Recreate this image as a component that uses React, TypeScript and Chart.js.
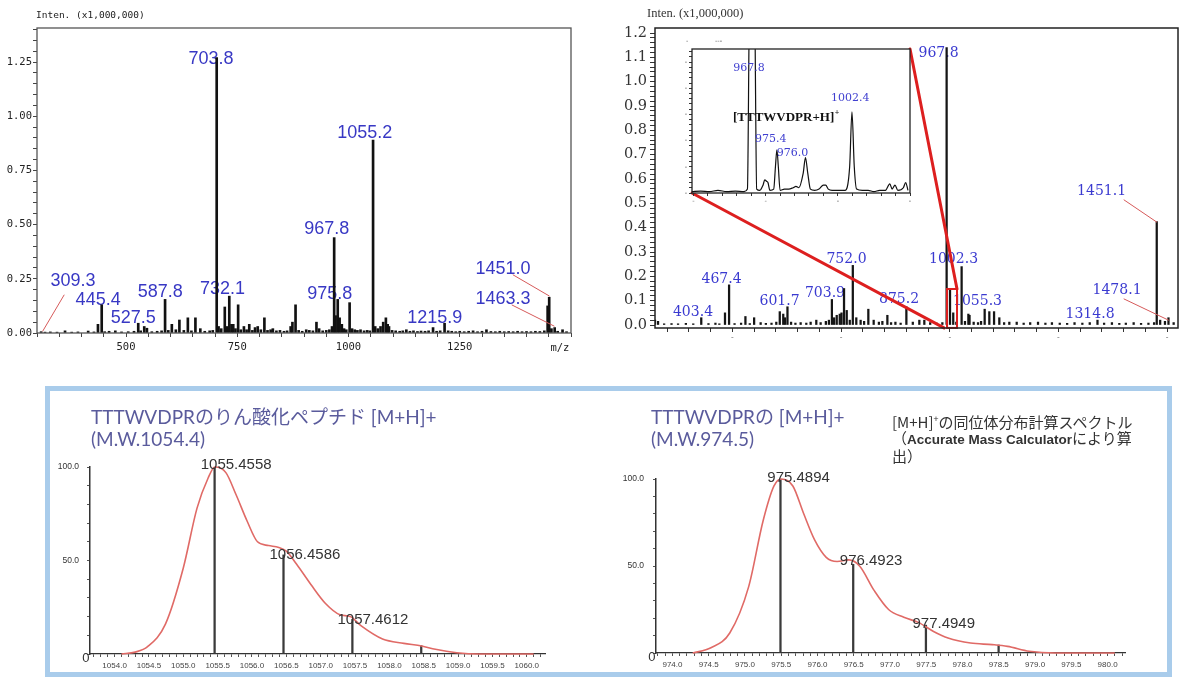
import React, { useEffect, useRef } from "react";
import { Chart, registerables } from "chart.js";

Chart.register(...registerables);

/* ================= DATA ================= */

/* ---- top-left spectrum: m/z vs intensity (x1,000,000) ---- */
const tlMz = [309.3, 318, 330, 345, 363, 378, 392, 415, 428, 437,
  445.4, 452, 462, 476, 490, 505, 518, 527.5, 533, 541,
  547, 558, 570, 580, 587.8, 595, 603, 612, 620, 630,
  639, 647, 656, 667, 677, 688, 695, 703.8, 708, 714,
  722, 727, 732.1, 737, 741, 746, 752, 758, 765, 771,
  777, 784, 790, 796, 803, 811, 818, 825, 830, 838,
  846, 855, 862, 870, 874, 881, 888, 896, 905, 912,
  920, 928, 934, 942, 950, 957, 963, 967.8, 971, 975.8,
  980, 985, 990, 995, 1002.5, 1008, 1014, 1020, 1027, 1035,
  1042, 1048, 1055.2, 1060, 1066, 1072, 1078, 1084, 1088, 1091,
  1098, 1106, 1115, 1122, 1130, 1138, 1146, 1155, 1163, 1172,
  1180, 1190, 1198, 1206, 1215.9, 1224, 1232, 1241, 1250, 1260,
  1270, 1280, 1290, 1300, 1310, 1320, 1330, 1340, 1350, 1360,
  1370, 1380, 1390, 1400, 1410, 1420, 1430, 1440, 1447.5, 1451.0,
  1456, 1463.3, 1470, 1481, 1490];
const tlInt = [0.006, 0.004, 0.005, 0.004, 0.01, 0.004, 0.005, 0.009, 0.005, 0.04,
  0.13, 0.006, 0.008, 0.01, 0.005, 0.006, 0.008, 0.045, 0.01, 0.03,
  0.022, 0.006, 0.008, 0.01, 0.155, 0.012, 0.04, 0.015, 0.06, 0.012,
  0.07, 0.01, 0.07, 0.02, 0.008, 0.01, 0.012, 1.27, 0.03, 0.02,
  0.12, 0.03, 0.17, 0.04, 0.04, 0.02, 0.13, 0.015, 0.03, 0.015,
  0.04, 0.012, 0.025, 0.03, 0.015, 0.07, 0.012, 0.015, 0.02, 0.01,
  0.012, 0.008, 0.01, 0.03, 0.05, 0.13, 0.012, 0.008, 0.015, 0.012,
  0.01, 0.05, 0.02, 0.01, 0.012, 0.015, 0.03, 0.44, 0.08, 0.155,
  0.07, 0.04, 0.02, 0.015, 0.14, 0.02, 0.015, 0.012, 0.015, 0.01,
  0.012, 0.01, 0.89, 0.03, 0.02, 0.03, 0.05, 0.07, 0.04, 0.03,
  0.012, 0.01, 0.008, 0.01, 0.015, 0.008, 0.01, 0.007, 0.009, 0.008,
  0.01, 0.025, 0.008, 0.01, 0.045, 0.01, 0.008, 0.006, 0.008, 0.006,
  0.008, 0.01, 0.006, 0.008, 0.015, 0.007, 0.006, 0.008, 0.006, 0.007,
  0.006, 0.008, 0.006, 0.007, 0.006, 0.008, 0.007, 0.01, 0.125, 0.165,
  0.02, 0.025, 0.008, 0.015, 0.006];
const tlLabelText = ["309.3", "445.4", "527.5", "587.8", "703.8", "732.1", "967.8", "975.8", "1055.2", "1215.9", "1451.0", "1463.3"];
const tlLabelMz = [381, 437.4, 516.2, 577, 690.8, 716.7, 950.9, 957.7, 1036.5, 1194, 1347, 1347];
const tlLabelInt = [0.24, 0.152, 0.069, 0.189, 1.265, 0.203, 0.48, 0.18, 0.922, 0.069, 0.295, 0.157];
const tlLeadFromMz = [360.8, 1370, 1367.6];
const tlLeadFromInt = [0.175, 0.268, 0.129];
const tlLeadToMz = [313, 1451, 1462];
const tlLeadToInt = [0.009, 0.171, 0.032];
const tlXTickLabels = [500, 750, 1000, 1250];

/* ---- top-right spectrum ---- */
const trMz = [297, 304, 318, 335, 350, 368, 385, 403.4, 420, 436,
  445, 458, 467.4, 480, 495, 505, 515, 525, 540, 552,
  565, 576, 584, 592, 596, 601.7, 610, 620, 632, 645,
  655, 668, 678, 690, 697, 703.9, 709, 715, 722, 726,
  731.8, 738, 745, 752.0, 760, 770, 778, 787.7, 800, 812,
  820, 831.5, 840, 850, 862, 875.2, 890, 905, 916.5, 930,
  945, 958, 967.8, 975.6, 983, 990, 1002.3, 1010, 1017.8, 1020.5,
  1030, 1040, 1047, 1055.3, 1066, 1076.9, 1089, 1100, 1112, 1129,
  1145, 1160, 1178, 1195, 1210, 1228, 1245, 1262, 1280, 1297,
  1314.8, 1330, 1348, 1365, 1380, 1398, 1415, 1432, 1445, 1451.1,
  1459, 1470, 1478.1, 1490];
const trInt = [0.02, 0.015, 0.005, 0.006, 0.005, 0.007, 0.005, 0.03, 0.006, 0.008,
  0.005, 0.05, 0.165, 0.006, 0.008, 0.035, 0.006, 0.03, 0.01, 0.007,
  0.008, 0.012, 0.055, 0.045, 0.03, 0.075, 0.012, 0.008, 0.01, 0.008,
  0.012, 0.02, 0.01, 0.015, 0.02, 0.105, 0.03, 0.04, 0.045, 0.05,
  0.15, 0.06, 0.02, 0.245, 0.03, 0.02, 0.015, 0.065, 0.02, 0.012,
  0.015, 0.04, 0.01, 0.012, 0.008, 0.075, 0.012, 0.02, 0.02, 0.01,
  0.008, 0.01, 1.14, 0.15, 0.05, 0.012, 0.24, 0.015, 0.045, 0.04,
  0.012, 0.01, 0.015, 0.065, 0.055, 0.055, 0.03, 0.01, 0.012, 0.012,
  0.008, 0.01, 0.012, 0.008, 0.01, 0.008, 0.007, 0.01, 0.008, 0.01,
  0.02, 0.008, 0.01, 0.007, 0.008, 0.01, 0.007, 0.008, 0.01, 0.425,
  0.02, 0.015, 0.03, 0.01];
const trLabelText = ["403.4", "467.4", "601.7", "703.9", "752.0", "875.2", "967.8", "1002.3", "1055.3", "1314.8", "1451.1", "1478.1"];
const trLabelMz = [384.4, 450, 583.4, 688, 737.5, 858.3, 949.2, 983.7, 1038.9, 1297.7, 1324.2, 1359.8];
const trLabelInt = [0.051, 0.187, 0.099, 0.132, 0.271, 0.107, 1.116, 0.271, 0.097, 0.045, 0.549, 0.144];
const trLeadFromMz = [1375.9, 1375.9];
const trLeadFromInt = [0.514, 0.107];
const trLeadToMz = [1451.1, 1478.1];
const trLeadToInt = [0.423, 0.02];
const trZoomBoxMz = [968.7, 991.7];
const trZoomBoxInt = [-0.012, 0.148];
const trZoomFromMz = [382.1, 883.6];
const trZoomFromInt = [0.5425, 1.134];
const trZoomToMz = [961.8, 991.7];
const trZoomToInt = [-0.012, 0.148];

/* ---- inset (zoom of 967.8 .. 1002.4 region), relative intensity ---- */
const insetMz = [947, 950, 953, 956, 959, 962, 965, 966.2, 966.8, 967.8,
  968.8, 969.4, 970.5, 971.6, 972.2, 972.8, 973.3, 974, 975.3, 975.9,
  976.4, 976.9, 977.5, 979, 980.5, 982, 983, 984, 985.5, 986.3,
  987.1, 988, 989.5, 991, 992.5, 993.3, 994.2, 995.5, 998, 1000,
  1001.6, 1002.4, 1003.2, 1004, 1006, 1008, 1010, 1012, 1014, 1015.5,
  1016.3, 1017.3, 1018.3, 1020.2, 1021, 1021.8];
const insetVal = [1, 1.5, 1, 2, 1, 1.5, 1, 3, 130, 300,
  130, 3, 2, 6, 10, 9, 8, 2, 3, 20,
  33, 20, 2, 3, 3, 4, 5, 4, 15, 27,
  15, 3, 2, 3, 6, 6, 3, 2, 2, 2,
  20, 62, 20, 3, 2, 2, 1, 2, 2, 7,
  3, 6, 2, 4, 8, 2];
const insetLabelText = ["967.8", "1002.4", "975.4", "976.0"];
const insetLabelMz = [966.7, 1001.8, 974.3, 981.8];
const insetLabelVal = [95.4, 72.7, 40.8, 30.8];
const insetIonText = "[TTTWVDPR+H]";
const insetIonMz = 961.2;
const insetIonVal = 57.7;

/* ---- bottom-left: phosphopeptide isotope pattern ---- */
const blCurveMz = [1054.1, 1054.3, 1054.48, 1054.74, 1055.0, 1055.2, 1055.36, 1055.46, 1055.62, 1055.77,
  1055.93, 1056.08, 1056.24, 1056.39, 1056.5, 1056.65, 1056.86, 1057.07, 1057.28, 1057.43,
  1057.59, 1057.9, 1058.21, 1058.47, 1058.67, 1058.98, 1059.3, 1059.7, 1060.1];
const blCurveRel = [0, 1, 3.9, 16, 46, 78, 94, 100, 97, 85,
  71, 60, 58, 57, 55, 48, 37, 27, 21, 20,
  15, 8, 5.7, 4.3, 2.5, 0.7, 0, 0, 0];
const blStickMz = [1055.4558, 1056.4586, 1057.4612, 1058.4634];
const blStickRel = [100, 53, 18.5, 4.5];
const blLabelText = ["1055.4558", "1056.4586", "1057.4612"];
const blLabelMz = [1055.77, 1056.77, 1057.76];
const blLabelRel = [101.1, 52.9, 18.5];

/* ---- bottom-right: non-phosphorylated isotope pattern ---- */
const brCurveMz = [974.28, 974.53, 974.79, 975.05, 975.25, 975.4, 975.5, 975.66, 975.81, 975.96,
  976.12, 976.27, 976.43, 976.58, 976.78, 976.98, 977.19, 977.39, 977.6, 977.8,
  978.11, 978.41, 978.62, 978.92, 979.28, 979.7, 980.1];
const brCurveRel = [0, 3, 11.5, 38, 76, 96, 100, 96, 80, 65,
  55, 52.6, 53.5, 50, 36, 25, 20.5, 17.6, 12.4, 8.6,
  5.7, 4.8, 3.8, 1, 0, 0, 0];
const brStickMz = [975.4894, 976.4923, 977.4949, 978.4973];
const brStickRel = [100, 51, 16, 4.6];
const brLabelText = ["975.4894", "976.4923", "977.4949"];
const brLabelMz = [975.739, 976.739, 977.741];
const brLabelRel = [100.6, 52.9, 16.7];

/* ================= HELPERS ================= */

const steps = (a: number, b: number, s: number): number[] => {
  const n = Math.round((b - a) / s);
  const out: number[] = [];
  for (let i = 0; i <= n; i++) out.push(Math.round((a + i * s) * 1e6) / 1e6);
  return out;
};
const isMult = (v: number, m: number) => Math.abs(v / m - Math.round(v / m)) < 1e-6;

function baseOptions(top: number, right: number): any {
  return {
    responsive: false,
    maintainAspectRatio: false,
    animation: false,
    devicePixelRatio: 1,
    events: [],
    layout: { padding: { top, right, left: 0, bottom: 0 } },
    plugins: { legend: { display: false }, tooltip: { enabled: false }, title: { display: false } },
  };
}

function axis(o: any): any {
  const horizontal = o.axis === "x";
  return {
    type: "linear",
    position: horizontal ? "bottom" : "left",
    min: o.min,
    max: o.max,
    offset: false,
    afterBuildTicks: (s: any) => {
      s.ticks = o.ticks.map((v: number) => ({ value: v }));
    },
    afterFit: (s: any) => {
      if (horizontal) {
        s.height = o.size;
        s.paddingLeft = 0;
        s.paddingRight = 0;
      } else {
        s.width = o.size;
        s.paddingTop = 0;
        s.paddingBottom = 0;
      }
    },
    grid: {
      display: true,
      drawOnChartArea: false,
      drawTicks: true,
      tickLength: o.tickLength,
      color: o.tickColor,
      lineWidth: 1,
      offset: false,
    },
    border: { display: !!o.border, color: o.borderColor || "#333", width: o.borderWidth || 1.3 },
    ticks: {
      autoSkip: false,
      maxRotation: 0,
      minRotation: 0,
      padding: o.pad,
      color: o.labelColor,
      font: o.font,
      callback: o.cb,
    },
  };
}

function drawTexts(chart: any, texts: string[], xs: number[], ys: number[], font: string, color: string) {
  const { ctx, scales } = chart;
  ctx.save();
  ctx.font = font;
  ctx.fillStyle = color;
  ctx.textAlign = "center";
  ctx.textBaseline = "middle";
  texts.forEach((t, i) => ctx.fillText(t, scales.x.getPixelForValue(xs[i]), scales.y.getPixelForValue(ys[i])));
  ctx.restore();
}

function drawSegs(chart: any, x1: number[], y1: number[], x2: number[], y2: number[], color: string, width: number) {
  const { ctx, scales } = chart;
  ctx.save();
  ctx.strokeStyle = color;
  ctx.lineWidth = width;
  ctx.lineCap = "round";
  for (let i = 0; i < x1.length; i++) {
    ctx.beginPath();
    ctx.moveTo(scales.x.getPixelForValue(x1[i]), scales.y.getPixelForValue(y1[i]));
    ctx.lineTo(scales.x.getPixelForValue(x2[i]), scales.y.getPixelForValue(y2[i]));
    ctx.stroke();
  }
  ctx.restore();
}

function frame(chart: any, color: string, width: number) {
  const { ctx, chartArea: ca } = chart;
  ctx.save();
  ctx.strokeStyle = color;
  ctx.lineWidth = width;
  ctx.strokeRect(ca.left, ca.top, ca.right - ca.left, ca.bottom - ca.top);
  ctx.restore();
}

/* ================= CHART CONFIGS ================= */

const MONO = '"DejaVu Sans Mono", monospace';
const SERIF = '"DejaVu Serif", serif';

function makeTopLeft(): any {
  return {
    type: "bar",
    data: {
      datasets: [{
        data: tlMz.map((m, i) => ({ x: m, y: tlInt[i] })),
        backgroundColor: "#111",
        borderWidth: 0,
        barThickness: 2,
      }],
    },
    options: {
      ...baseOptions(28, 19),
      scales: {
        x: axis({
          axis: "x", min: 300, max: 1500, ticks: steps(300, 1500, 50), size: 32, tickLength: 4,
          tickColor: "#444", pad: 4, labelColor: "#222", font: { family: MONO, size: 10.5 },
          cb: (v: number) => (tlXTickLabels.includes(v) ? String(v) : ""),
        }),
        y: axis({
          axis: "y", min: 0, max: 1.407, ticks: steps(0, 1.4, 0.05), size: 37, tickLength: 4,
          tickColor: "#444", pad: 1, labelColor: "#222", font: { family: MONO, size: 10.5 },
          cb: (v: number) => (isMult(v, 0.25) ? v.toFixed(2) : ""),
        }),
      },
    },
    plugins: [{
      id: "tlDeco",
      beforeDatasetsDraw(chart: any) {
        drawTexts(chart, tlLabelText, tlLabelMz, tlLabelInt, '18px "Liberation Sans", Arial, sans-serif', "#3838c4");
      },
      afterDatasetsDraw(chart: any) {
        drawSegs(chart, tlLeadFromMz, tlLeadFromInt, tlLeadToMz, tlLeadToInt, "#d65a5a", 1);
      },
      afterDraw(chart: any) {
        const { ctx, chartArea: ca, scales } = chart;
        frame(chart, "#555", 1.3);
        ctx.save();
        ctx.fillStyle = "#222";
        ctx.textBaseline = "middle";
        ctx.textAlign = "left";
        ctx.font = `9.5px ${MONO}`;
        ctx.fillText("Inten. (x1,000,000)", 36, 16);
        ctx.textAlign = "center";
        ctx.font = `10.5px ${MONO}`;
        ctx.fillText("m/z", scales.x.getPixelForValue(1475), ca.bottom + 15);
        ctx.restore();
      },
    }],
  };
}

function makeTopRight(): any {
  return {
    type: "bar",
    data: {
      datasets: [{
        data: trMz.map((m, i) => ({ x: m, y: trInt[i] })),
        backgroundColor: "#151515",
        borderWidth: 0,
        barThickness: 1.6,
      }],
    },
    options: {
      ...baseOptions(28, 2),
      scales: {
        x: axis({
          axis: "x", min: 297, max: 1500, ticks: steps(325, 1475, 50), size: 22, tickLength: 4,
          tickColor: "#333", pad: 1, labelColor: "#666", font: { family: SERIF, size: 8 },
          cb: (v: number) => (v >= 475 && isMult(v - 475, 250) ? "-" : ""),
        }),
        y: axis({
          axis: "y", min: -0.0123, max: 1.2206, ticks: steps(0, 1.2, 0.02), size: 65, tickLength: 5,
          tickColor: "#333", pad: 3, labelColor: "#333", font: { family: SERIF, size: 14.5 },
          cb: (v: number) => (isMult(v, 0.1) ? v.toFixed(1) : ""),
        }),
      },
    },
    plugins: [{
      id: "trDeco",
      beforeDatasetsDraw(chart: any) {
        drawTexts(chart, trLabelText, trLabelMz, trLabelInt, `14px ${SERIF}`, "#3a3ad0");
      },
      afterDatasetsDraw(chart: any) {
        drawSegs(chart, trLeadFromMz, trLeadFromInt, trLeadToMz, trLeadToInt, "#d65a5a", 1);
        drawSegs(chart, trZoomFromMz, trZoomFromInt, trZoomToMz, trZoomToInt, "#dd1f1f", 3);
        const { ctx, scales } = chart;
        const x1 = scales.x.getPixelForValue(trZoomBoxMz[0]);
        const x2 = scales.x.getPixelForValue(trZoomBoxMz[1]);
        const y1 = scales.y.getPixelForValue(trZoomBoxInt[1]);
        const y2 = scales.y.getPixelForValue(trZoomBoxInt[0]);
        ctx.save();
        ctx.strokeStyle = "#dd1f1f";
        ctx.lineWidth = 2;
        ctx.strokeRect(x1, y1, x2 - x1, y2 - y1);
        ctx.restore();
      },
      afterDraw(chart: any) {
        const { ctx } = chart;
        frame(chart, "#222", 1.5);
        ctx.save();
        ctx.fillStyle = "#333";
        ctx.textBaseline = "middle";
        ctx.textAlign = "left";
        ctx.font = '12.5px "Liberation Serif", serif';
        ctx.fillText("Inten. (x1,000,000)", 57, 13.5);
        ctx.restore();
      },
    }],
  };
}

function makeInset(): any {
  return {
    type: "line",
    data: {
      datasets: [{
        data: insetMz.map((m, i) => ({ x: m, y: insetVal[i] })),
        borderColor: "#111",
        borderWidth: 1.2,
        pointRadius: 0,
        fill: false,
        cubicInterpolationMode: "monotone",
      }],
    },
    options: {
      ...baseOptions(19, 10),
      scales: {
        x: axis({
          axis: "x", min: 947, max: 1022.5, ticks: steps(947.5, 1022.5, 5), size: 22, tickLength: 3,
          tickColor: "#333", pad: 1, labelColor: "#777", font: { family: SERIF, size: 7 },
          cb: (v: number) => (isMult(v - 947.5, 25) ? "-" : ""),
        }),
        y: axis({
          axis: "y", min: 0, max: 110, ticks: steps(0, 108, 4), size: 22, tickLength: 3,
          tickColor: "#333", pad: 2, labelColor: "#777", font: { family: SERIF, size: 7 },
          cb: (v: number) => (isMult(v, 20) ? "-" : ""),
        }),
      },
    },
    plugins: [{
      id: "insetDeco",
      beforeDraw(chart: any) {
        const { ctx, chartArea: ca } = chart;
        ctx.save();
        ctx.fillStyle = "#fff";
        ctx.fillRect(ca.left, ca.top, ca.right - ca.left, ca.bottom - ca.top);
        ctx.restore();
      },
      afterDraw(chart: any) {
        const { ctx, scales } = chart;
        frame(chart, "#222", 1.3);
        drawTexts(chart, insetLabelText, insetLabelMz, insetLabelVal, `11px ${SERIF}`, "#4040d0");
        ctx.save();
        ctx.fillStyle = "#111";
        ctx.textBaseline = "middle";
        ctx.textAlign = "left";
        ctx.font = 'bold 13px "Liberation Serif", serif';
        const px = scales.x.getPixelForValue(insetIonMz);
        const py = scales.y.getPixelForValue(insetIonVal);
        ctx.fillText(insetIonText, px, py);
        const w = ctx.measureText(insetIonText).width;
        ctx.font = 'bold 8px "Liberation Serif", serif';
        ctx.fillText("+", px + w + 0.5, py - 5);
        ctx.fillStyle = "#666";
        ctx.font = `7px ${SERIF}`;
        ctx.fillText("-", 16, 11);
        ctx.fillText("---", 45, 11);
        ctx.restore();
      },
    }],
  };
}

function makeIsotope(o: any): any {
  return {
    type: "bar",
    data: {
      datasets: [
        {
          type: "line",
          data: o.curveMz.map((m: number, i: number) => ({ x: m, y: o.curveRel[i] })),
          borderColor: "#e06a66",
          borderWidth: 1.6,
          pointRadius: 0,
          fill: false,
          cubicInterpolationMode: "monotone",
          clip: 4,
          order: 0,
        },
        {
          type: "bar",
          data: o.stickMz.map((m: number, i: number) => ({ x: m, y: o.stickRel[i] })),
          backgroundColor: "#3a3a3a",
          borderWidth: 0,
          barThickness: 1.6,
          order: 1,
        },
      ],
    },
    options: {
      ...baseOptions(o.top, o.right),
      scales: {
        x: axis({
          axis: "x", min: o.xmin, max: o.xmax, ticks: steps(o.tickStart, o.tickEnd, 0.1), size: o.xSize,
          tickLength: 3, tickColor: "#555", pad: 4, labelColor: "#444",
          font: { family: '"Liberation Sans Narrow", "Liberation Sans", sans-serif', size: 8 },
          border: true, borderColor: "#333", borderWidth: 1.3,
          cb: (v: number) => (v >= o.labelStart - 1e-6 && v <= o.labelEnd + 1e-6 && isMult(v, 0.5) ? v.toFixed(1) : ""),
        }),
        y: axis({
          axis: "y", min: 0, max: 100, ticks: steps(0, 100, 10), size: o.ySize,
          tickLength: 3, tickColor: "#555", pad: o.yPad, labelColor: "#333",
          font: { family: '"Liberation Sans Narrow", "Liberation Sans", sans-serif', size: 8.5 },
          border: true, borderColor: "#333", borderWidth: 1.5,
          cb: (v: number) => (v === 100 ? "100.0" : v === 50 ? "50.0" : ""),
        }),
      },
    },
    plugins: [{
      id: "isoDeco",
      afterDatasetsDraw(chart: any) {
        drawTexts(chart, o.labelText, o.labelMz, o.labelRel, '15px "Liberation Sans", Arial, sans-serif', "#333");
      },
      afterDraw(chart: any) {
        const { ctx, chartArea: ca, scales } = chart;
        ctx.save();
        ctx.fillStyle = "#333";
        ctx.font = '13px "Liberation Sans", Arial, sans-serif';
        ctx.textAlign = "right";
        ctx.textBaseline = "middle";
        ctx.fillText("0", ca.left - 0.5, scales.y.getPixelForValue(0) + 4);
        ctx.restore();
      },
    }],
  };
}

const makeBottomLeft = () =>
  makeIsotope({
    curveMz: blCurveMz, curveRel: blCurveRel, stickMz: blStickMz, stickRel: blStickRel,
    labelText: blLabelText, labelMz: blLabelMz, labelRel: blLabelRel,
    xmin: 1053.642, xmax: 1060.265, tickStart: 1053.7, tickEnd: 1060.2, labelStart: 1054, labelEnd: 1060,
    top: 77, right: 65, xSize: 23, ySize: 40, yPad: 8,
  });

const makeBottomRight = () =>
  makeIsotope({
    curveMz: brCurveMz, curveRel: brCurveRel, stickMz: brStickMz, stickRel: brStickRel,
    labelText: brLabelText, labelMz: brLabelMz, labelRel: brLabelRel,
    xmin: 973.773, xmax: 980.24, tickStart: 973.8, tickEnd: 980.2, labelStart: 974, labelEnd: 980,
    top: 89, right: 45, xSize: 24, ySize: 46, yPad: 9,
  });

/* ================= COMPONENTS ================= */

function ChartBox({ x, y, w, h, make }: any) {
  const ref = useRef<HTMLCanvasElement | null>(null);
  useEffect(() => {
    if (!ref.current) return;
    const chart = new Chart(ref.current, make());
    return () => chart.destroy();
  }, [make]);
  return (
    <canvas
      ref={ref}
      width={w}
      height={h}
      style={{ position: "absolute", left: x, top: y, width: w, height: h, display: "block" }}
    />
  );
}

const TITLE_FONT = 'Lato, "Noto Sans CJK JP", sans-serif';
const titleStyle = (left: number, top: number): any => ({
  position: "absolute",
  left,
  top,
  font: `19px ${TITLE_FONT}`,
  lineHeight: "22px",
  color: "#5a5b9c",
  whiteSpace: "nowrap",
});
const noteStyle = (left: number, top: number): any => ({
  position: "absolute",
  left,
  top,
  font: '15px "Noto Sans CJK JP", sans-serif',
  lineHeight: "18px",
  color: "#333",
  whiteSpace: "nowrap",
});

export default function App() {
  return (
    <div style={{ position: "absolute", left: 0, top: 0, width: 1180, height: 677, background: "#fff", overflow: "hidden" }}>
      <ChartBox x={0} y={0} w={590} h={365} make={makeTopLeft} />
      <ChartBox x={590} y={0} w={590} h={350} make={makeTopRight} />
      <ChartBox x={670} y={30} w={250} h={185} make={makeInset} />

      <div
        style={{
          position: "absolute", left: 45, top: 386, width: 1127, height: 291, boxSizing: "border-box",
          border: "5px solid #a9cceb",
        }}
      />
      <ChartBox x={50} y={390} w={560} h={287} make={makeBottomLeft} />
      <ChartBox x={610} y={390} w={560} h={287} make={makeBottomRight} />

      <div style={titleStyle(91, 406)}>TTTWVDPRのりん酸化ペプチド [M+H]+</div>
      <div style={titleStyle(91, 428)}>(M.W.1054.4)</div>
      <div style={titleStyle(651, 406)}>TTTWVDPRの [M+H]+</div>
      <div style={titleStyle(651, 428)}>(M.W.974.5)</div>

      <div style={noteStyle(892, 410)}>
        [M+H]<sup style={{ fontSize: "9px", verticalAlign: "6px" }}>+</sup>の同位体分布計算スペクトル
      </div>
      <div style={noteStyle(892, 429)}>
        （<span style={{ font: 'bold 13.5px "Liberation Sans", Arial, sans-serif' }}>Accurate Mass Calculator</span>により算
      </div>
      <div style={noteStyle(892, 447)}>出）</div>
    </div>
  );
}
